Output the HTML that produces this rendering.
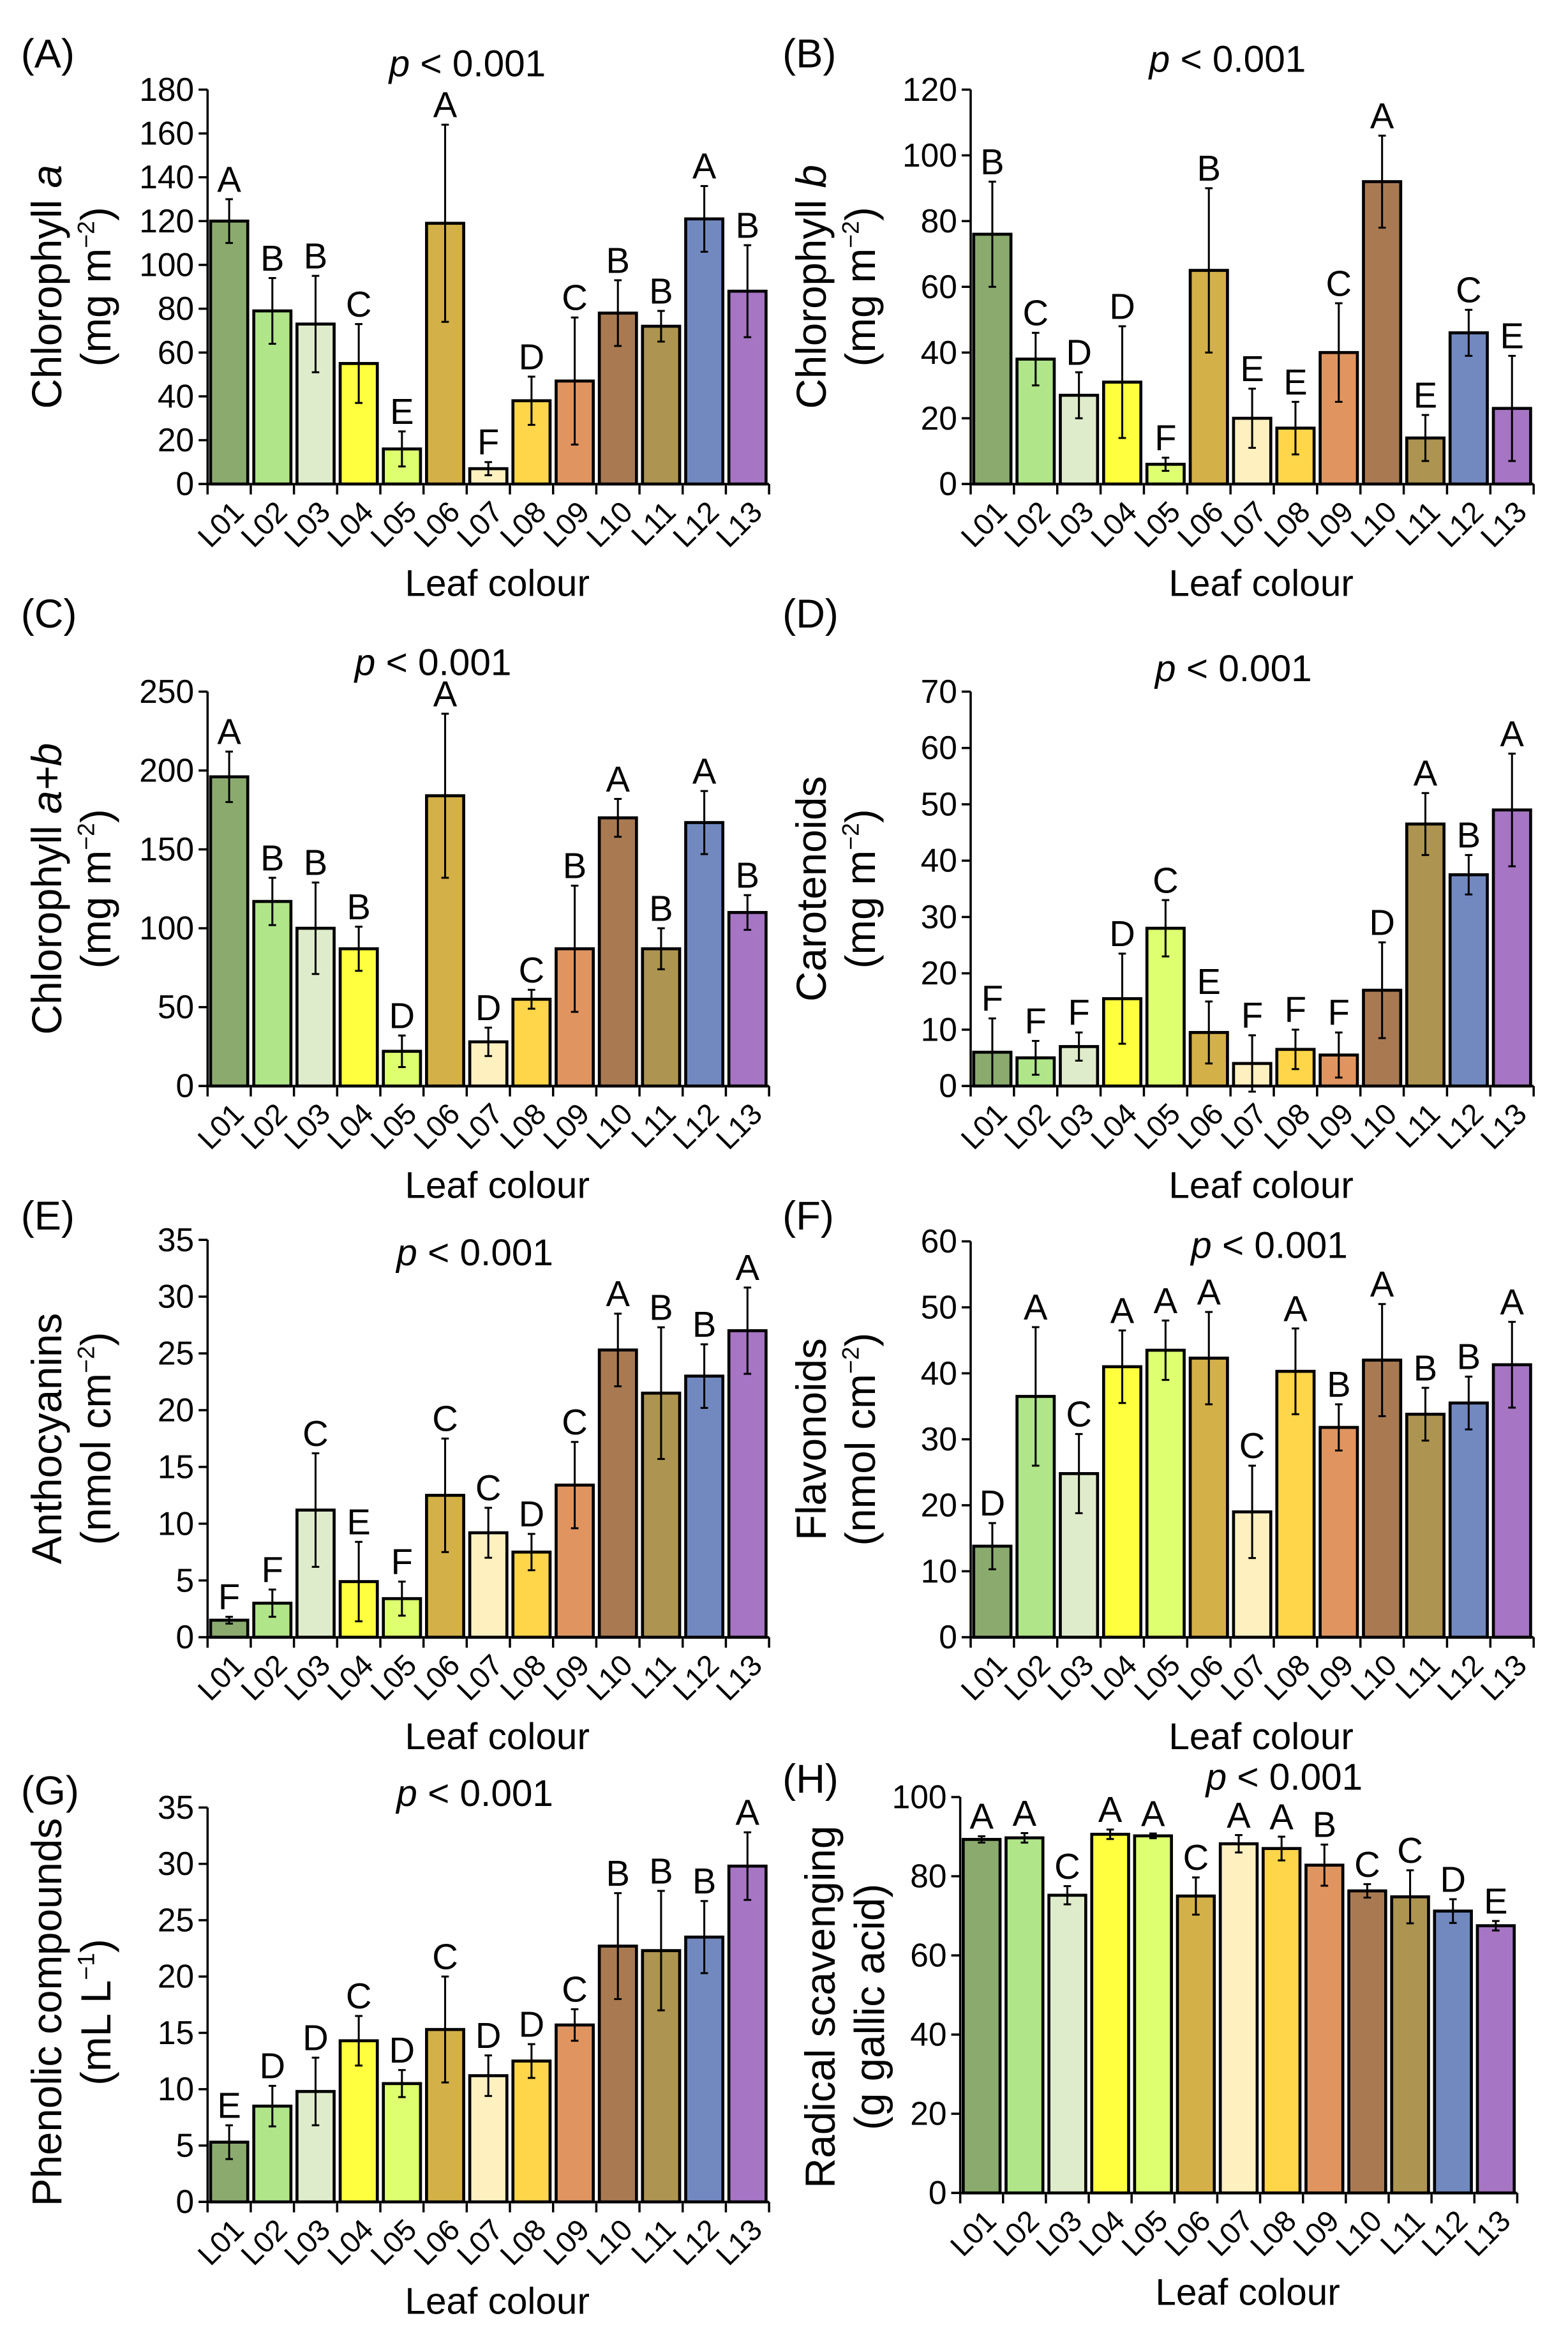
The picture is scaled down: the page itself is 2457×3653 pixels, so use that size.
<!DOCTYPE html>
<html><head><meta charset="utf-8"><style>
html,body{margin:0;padding:0;background:#fff}
svg{display:block;font-family:"Liberation Sans",Arial,sans-serif}
</style></head><body>
<svg id="fig" width="2457" height="3653" viewBox="0 0 1050 1561.1" preserveAspectRatio="none" xmlns="http://www.w3.org/2000/svg"></svg>
<script>
const categories=["L01","L02","L03","L04","L05","L06","L07","L08","L09","L10","L11","L12","L13"];
const colors=["#8bab6e","#b0e58a","#dfeccb","#ffff40","#ddff70","#d4b048","#fff0c0","#ffd54a","#e09560","#a97a52","#ad9450","#7289c0","#a675c4"];
const valsA=[120,79,73,55,16,119,7,38,47,78,72,121,88];
const errA=[10,15,22,18,8,45,3,11,29,15,7,15,21];
const letA=["A","B","B","C","E","A","F","D","C","B","B","A","B"];
const valsB=[76,38,27,31,6,65,20,17,40,92,14,46,23];
const errB=[16,8,7,17,2,25,9,8,15,14,7,7,16];
const letB=["B","C","D","D","F","B","E","E","C","A","E","C","E"];
const valsC=[196,117,100,87,22,184,28,55,87,170,87,167,110];
const errC=[16,15,29,14,10,52,9,6,40,12,13,20,11];
const letC=["A","B","B","B","D","A","D","C","B","A","B","A","B"];
const valsD=[6,5,7,15.5,28,9.5,4,6.5,5.5,17,46.5,37.5,49];
const errD=[6,3,2.5,8,5,5.5,5,3.5,4,8.5,5.5,3.5,10];
const letD=["F","F","F","D","C","E","F","F","F","D","A","B","A"];
const valsE=[1.5,3,11.2,4.9,3.4,12.5,9.2,7.5,13.4,25.3,21.5,23,27];
const errE=[0.3,1.2,5,3.5,1.5,5,2.2,1.6,3.8,3.2,5.8,2.8,3.8];
const letE=["F","F","C","E","F","C","C","D","C","A","B","B","A"];
const valsF=[13.8,36.5,24.8,41,43.5,42.3,19,40.3,31.8,42,33.8,35.5,41.3];
const errF=[3.5,10.5,6,5.5,4.5,7,7,6.5,3.5,8.5,4,4,6.5];
const letF=["D","A","C","A","A","A","C","A","B","A","B","B","A"];
const valsG=[5.3,8.5,9.8,14.3,10.5,15.3,11.2,12.5,15.7,22.7,22.3,23.5,29.8];
const errG=[1.5,1.8,3,2.2,1.2,4.7,1.8,1.5,1.4,4.7,5.3,3.2,3];
const letG=["E","D","D","C","D","C","D","D","C","B","B","B","A"];
const valsH=[89.3,89.7,75.2,90.6,90.2,75,88.2,87,82.8,76.3,74.8,71.2,67.5];
const errH=[0.8,1.2,2.3,1.2,0.6,4.7,2.2,3,5.2,1.7,6.7,3,1.2];
const letH=["A","A","C","A","A","C","A","A","B","C","C","D","E"];
const ticksA=[0,20,40,60,80,100,120,140,160,180];
const ticksB=[0,20,40,60,80,100,120];
const ticksC=[0,50,100,150,200,250];
const ticksD=[0,10,20,30,40,50,60,70];
const ticksE=[0,5,10,15,20,25,30,35];
const ticksF=[0,10,20,30,40,50,60];
const ticksG=[0,5,10,15,20,25,30,35];
const ticksH=[0,20,40,60,80,100];

const NS="http://www.w3.org/2000/svg";
const svg=document.getElementById('fig');
function mk(tag,attrs,parent){const e=document.createElementNS(NS,tag);for(const k in attrs)e.setAttribute(k,attrs[k]);(parent||svg).appendChild(e);return e;}

const panels=[
 {id:"a",lab:"(A)",lx:14,ly:45,x0:139,x1:515,yt:60,yb:324,vals:valsA,err:errA,let:letA,ticks:ticksA,px:313,py:51,t1:["Chlorophyll ",["a",1]],t2:"mg",tx:31,cyo:0},
 {id:"b",lab:"(B)",lx:524,ly:45,x0:650,x1:1027,yt:60,yb:324,vals:valsB,err:errB,let:letB,ticks:ticksB,px:822,py:48,t1:["Chlorophyll ",["b",1]],t2:"mg",tx:543,cyo:0},
 {id:"c",lab:"(C)",lx:14,ly:420,x0:139,x1:515,yt:463,yb:727,vals:valsC,err:errC,let:letC,ticks:ticksC,px:290,py:452,t1:["Chlorophyll ",["a+b",1]],t2:"mg",tx:31,cyo:0},
 {id:"d",lab:"(D)",lx:524,ly:420,x0:650,x1:1027,yt:463,yb:727,vals:valsD,err:errD,let:letD,ticks:ticksD,px:826,py:456,t1:["Carotenoids"],t2:"mg",tx:543,cyo:0},
 {id:"e",lab:"(E)",lx:14,ly:823,x0:139,x1:515,yt:830,yb:1096,vals:valsE,err:errE,let:letE,ticks:ticksE,px:318,py:847,t1:["Anthocyanins"],t2:"nmol",tx:31,cyo:0},
 {id:"f",lab:"(F)",lx:524,ly:823,x0:650,x1:1027,yt:831,yb:1096,vals:valsF,err:errF,let:letF,ticks:ticksF,px:850,py:842,t1:["Flavonoids"],t2:"nmol",tx:543,cyo:0},
 {id:"g",lab:"(G)",lx:14,ly:1208,x0:139,x1:515,yt:1210,yb:1474,vals:valsG,err:errG,let:letG,ticks:ticksG,px:318,py:1209,t1:["Phenolic compounds"],t2:"mL",tx:31,cyo:5},
 {id:"h",lab:"(H)",lx:524,ly:1200,x0:643,x1:1016,yt:1203,yb:1468,vals:valsH,err:errH,let:letH,ticks:ticksH,px:860,py:1198,t1:["Radical scavenging"],t2:"g",tx:549,cyo:8},
];

panels.forEach(p=>{
  const g=mk('g',{});
  
  
  const max=p.ticks[p.ticks.length-1];
  const y=v=>p.yb-(v/max)*(p.yb-p.yt);
  const cw=(p.x1-p.x0)/categories.length;
  const pl=mk('text',{x:p.lx,y:p.ly,'font-size':27},g);pl.textContent=p.lab;
  
  const pv=mk('text',{x:p.px,y:p.py,'font-size':25,'text-anchor':'middle'},g);
  
  const pi=mk('tspan',{'font-style':'italic'},pv);pi.textContent='p';
  const pr=mk('tspan',{},pv);pr.textContent=' < 0.001';
  p.vals.forEach((v,i)=>{
    const cx=p.x0+cw*(i+0.5);
    const bw=cw*0.86;
    const r=mk('rect',{x:cx-bw/2,y:y(v),width:bw,height:p.yb-y(v),fill:colors[i],stroke:'#000','stroke-width':2},g);
    
    
    const e=p.err[i];
    const eg=mk('g',{stroke:'#000','stroke-width':1.3},g);
    
    
    mk('line',{x1:cx,x2:cx,y1:y(v-e),y2:y(v+e)},eg);
    mk('line',{x1:cx-2.5,x2:cx+2.5,y1:y(v-e),y2:y(v-e)},eg);
    mk('line',{x1:cx-2.5,x2:cx+2.5,y1:y(v+e),y2:y(v+e)},eg);
    const lt=mk('text',{x:cx,y:y(v+e)-5,'font-size':24,'text-anchor':'middle'},g);
    lt.textContent=p.let[i];
    
    
    const xl=mk('text',{x:0,y:0,'font-size':20,'text-anchor':'end',transform:`translate(${cx+11},${p.yb+20}) rotate(-45)`},g);
    xl.textContent=categories[i];
    
    
  });
  const ax=mk('g',{stroke:'#000','stroke-width':1.5},g);
  
  mk('line',{x1:p.x0,x2:p.x0,y1:p.yt,y2:p.yb},ax);
  mk('line',{x1:p.x0-6,x2:p.x1,y1:p.yb,y2:p.yb},ax);
  for(let i=0;i<=categories.length;i++){const xx=p.x0+cw*i;mk('line',{x1:xx,x2:xx,y1:p.yb,y2:p.yb+7},ax);}
  p.ticks.forEach(t=>{
    mk('line',{x1:p.x0-6,x2:p.x0,y1:y(t),y2:y(t)},ax);
    const tl=mk('text',{x:p.x0-9,y:y(t)+7.5,'font-size':22,'text-anchor':'end'},g);
    tl.textContent=t;
    
  });
  const cy=(p.yt+p.yb)/2+p.cyo;
  const t1=mk('text',{x:0,y:0,'font-size':28,'text-anchor':'middle',transform:`translate(${p.tx+10},${cy}) rotate(-90)`},g);
  
  p.t1.forEach(s=>{if(typeof s==='string'){const ts=mk('tspan',{},t1);ts.textContent=s;}else{const ts=mk('tspan',{'font-style':'italic'},t1);ts.textContent=s[0];}});
  const t2=mk('text',{x:0,y:0,'font-size':28,'text-anchor':'middle',transform:`translate(${p.tx+43},${cy}) rotate(-90)`},g);
  
  if(p.t2==='g'){t2.textContent='(g gallic acid)';}
  else{
    const unit={mg:['(mg m','\u22122',')'],nmol:['(nmol cm','\u22122',')'],mL:['(mL L','\u22121',')']}[p.t2];
    const a=mk('tspan',{},t2);a.textContent=unit[0];
    const b=mk('tspan',{'font-size':16,dy:-11},t2);b.textContent=unit[1];
    const c=mk('tspan',{dy:11},t2);c.textContent=unit[2];
  }
  const xt=mk('text',{x:(p.x0+p.x1)/2+6,y:p.yb+75,'font-size':25,'text-anchor':'middle'},g);
  xt.textContent='Leaf colour';
  
});
</script>
</body></html>
